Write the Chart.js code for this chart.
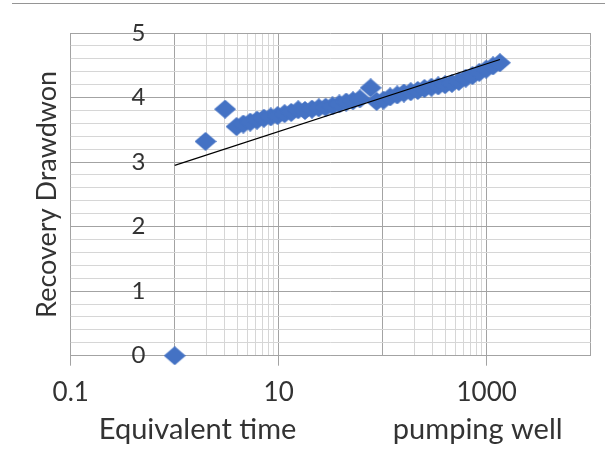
<!DOCTYPE html>
<html>
<head>
<meta charset="utf-8">
<script src="https://cdn.jsdelivr.net/npm/chart.js@4/dist/chart.umd.min.js"></script>
<style>
  html, body { margin: 0; padding: 0; background: #fff; }
  #wrap { position: relative; width: 605px; height: 456px; }
  #topRule { position: absolute; left: 12px; right: 0; top: 3px; border-top: 1.5px solid #959595; }
  canvas { display: block; }
</style>
</head>
<body>
<div id="wrap">
  <div id="topRule"></div>
  <canvas id="chart" width="605" height="456"></canvas>
</div>
<script>
// recovery test - pumping well
const equivTime = [1, 1.98, 3.05,
  3.93, 4.57, 5.32, 6.19, 7.21, 8.39, 9.76, 11.4, 13.2, 15.4,
  17.9, 20.9, 24.3, 28.3, 32.9, 38.3, 44.6, 51.8, 60.3, 76.6,
  87.3, 102, 118, 138, 160, 186, 217, 252, 294, 342,
  398, 463, 539, 628, 730, 850, 989, 1151, 1340];
const recoveryDrawdown = [0, 3.32, 3.82,
  3.55, 3.59, 3.62, 3.65, 3.68, 3.70, 3.72, 3.75, 3.77, 3.81,
  3.80, 3.82, 3.84, 3.85, 3.87, 3.90, 3.93, 3.95, 3.98, 4.15,
  3.94, 3.96, 4.01, 4.04, 4.07, 4.09, 4.11, 4.14, 4.16, 4.18,
  4.20, 4.22, 4.25, 4.30, 4.34, 4.39, 4.44, 4.49, 4.54];

// log trendline (as shown by excel)
const trendTime = [1, 1340];
const trendDrawdown = [2.95, 4.59];

const xGridValues = [0.1, 1, 2, 3, 4, 5, 6, 7, 8, 9, 10, 100, 200, 300, 400, 500, 600, 700, 800, 900, 1000, 10000];
const xTickLabels = ['0.1', '10', '1000'];
const yTickLabels = ['0', '1', '2', '3', '4', '5'];

const MAJOR = '#a3a3a3';
const MINOR = '#d6d6d6';
const TEXT = '#333333';
// y labels sit inside the plot, just left of the x=1 line
const Y_LABEL_AT = 0.523;

Chart.defaults.font.family = 'Lato';
Chart.defaults.color = TEXT;

function diamond(w, h, color) {
    const c = document.createElement('canvas');
    c.width = w;
    c.height = h;
    const g = c.getContext('2d');
    g.fillStyle = color;
    g.beginPath();
    g.moveTo(w / 2, 0);
    g.lineTo(w, h / 2);
    g.lineTo(w / 2, h);
    g.lineTo(0, h / 2);
    g.closePath();
    g.fill();
    return c;
}

const isDecade = v => Math.abs(Math.log10(v) - Math.round(Math.log10(v))) < 1e-9;
const isWhole = v => Math.abs(v - Math.round(v)) < 1e-9;

new Chart(document.getElementById('chart'), {
    type: 'scatter',
    data: {
        datasets: [
            {
                label: 'trend',
                data: trendTime.map((t, i) => ({x: t, y: trendDrawdown[i]})),
                showLine: true,
                borderColor: '#000',
                borderWidth: 1.2,
                pointRadius: 0,
                order: 0,
            },
            {
                label: 'pumping well',
                data: equivTime.map((t, i) => ({x: t, y: recoveryDrawdown[i]})),
                pointStyle: diamond(22, 19, '#4472C4'),
                pointRadius: 10,
                clip: false,
                order: 1,
            },
        ]
    },
    options: {
        responsive: false,
        animation: false,
        layout: {padding: {top: 33, right: 3, bottom: 0, left: 0}},
        plugins: {
            legend: {display: false},
            tooltip: {enabled: false},
        },
        scales: {
            x: {
                type: 'logarithmic',
                min: 0.1,
                max: 10000,
                afterBuildTicks: scale => {
                    scale.ticks = xGridValues.map(v => ({value: v}));
                },
                ticks: {
                    autoSkip: false,
                    maxRotation: 0,
                    minRotation: 0,
                    padding: 14.3,
                    font: {size: 26, lineHeight: 1},
                    callback: v => xTickLabels.includes(String(v)) ? String(v) : '',
                },
                grid: {
                    color: c => isDecade(c.tick.value) ? MAJOR : MINOR,
                    tickColor: c => xTickLabels.includes(String(c.tick.value)) ? MAJOR : 'transparent',
                    tickLength: 10,
                },
                border: {color: MAJOR},
                title: {
                    display: true,
                    text: 'Equivalent time             pumping well',
                    font: {size: 29, lineHeight: 1},
                    padding: {top: -4.8, bottom: 11.5},
                },
            },
            y: {
                position: {x: Y_LABEL_AT},
                min: 0,
                max: 5,
                afterFit: scale => {
                    scale.paddingTop = 0;
                    scale.paddingBottom = 0;
                },
                ticks: {
                    stepSize: 0.2,
                    autoSkip: false,
                    font: {size: 24},
                    callback: v => {
                        const s = String(Math.round(v * 1000) / 1000);
                        return yTickLabels.includes(s) ? s : '';
                    },
                },
                grid: {
                    color: c => isWhole(c.tick.value) ? MAJOR : MINOR,
                    drawTicks: false,
                },
                border: {display: false},
            },
            yTitle: {
                type: 'linear',
                position: 'left',
                grid: {display: false, drawTicks: false},
                border: {display: false},
                ticks: {display: false},
                title: {
                    display: true,
                    text: 'Recovery Drawdwon',
                    font: {size: 27, lineHeight: 1},
                    padding: {top: 33.5, bottom: 10.2},
                },
            },
        }
    }
});
</script>
</body>
</html>
